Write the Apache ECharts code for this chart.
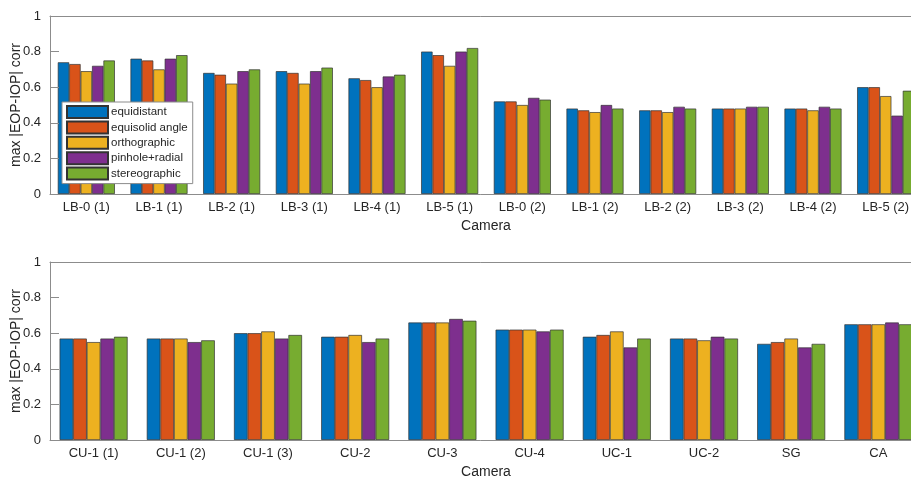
<!DOCTYPE html>
<html>
<head>
<meta charset="utf-8">
<script src="https://cdn.jsdelivr.net/npm/echarts@6/dist/echarts.min.js"></script>
<style>
  html, body { margin: 0; padding: 0; background: #fff; }
  #chart { width: 911px; height: 477px; }
</style>
</head>
<body>
<div id="chart"></div>
<script>
// Cameras of the first panel (LB rig, two sessions)
const topCameras = ['LB-0 (1)', 'LB-1 (1)', 'LB-2 (1)', 'LB-3 (1)', 'LB-4 (1)', 'LB-5 (1)',
                    'LB-0 (2)', 'LB-1 (2)', 'LB-2 (2)', 'LB-3 (2)', 'LB-4 (2)', 'LB-5 (2)'];
// Cameras of the second panel
const bottomCameras = ['CU-1 (1)', 'CU-1 (2)', 'CU-1 (3)', 'CU-2', 'CU-3', 'CU-4', 'UC-1', 'UC-2', 'SG', 'CA'];

// Projection models
const models = ['equidistant', 'equisolid angle', 'orthographic', 'pinhole+radial', 'stereographic'];

// max |EOP-IOP| correlation, first panel
const topEquidistant    = [0.74, 0.76, 0.68, 0.69, 0.65, 0.80, 0.52, 0.48, 0.47, 0.48, 0.48, 0.60];
const topEquisolid      = [0.73, 0.75, 0.67, 0.68, 0.64, 0.78, 0.52, 0.47, 0.47, 0.48, 0.48, 0.60];
const topOrthographic   = [0.69, 0.70, 0.62, 0.62, 0.60, 0.72, 0.50, 0.46, 0.46, 0.48, 0.47, 0.55];
const topPinholeRadial  = [0.72, 0.76, 0.69, 0.69, 0.66, 0.80, 0.54, 0.50, 0.49, 0.49, 0.49, 0.44];
const topStereographic  = [0.75, 0.78, 0.70, 0.71, 0.67, 0.82, 0.53, 0.48, 0.48, 0.49, 0.48, 0.58];

// max |EOP-IOP| correlation, second panel
const botEquidistant    = [0.57, 0.57, 0.60, 0.58, 0.66, 0.62, 0.58, 0.57, 0.54, 0.65];
const botEquisolid      = [0.57, 0.57, 0.60, 0.58, 0.66, 0.62, 0.59, 0.57, 0.55, 0.65];
const botOrthographic   = [0.55, 0.57, 0.61, 0.59, 0.66, 0.62, 0.61, 0.56, 0.57, 0.65];
const botPinholeRadial  = [0.57, 0.55, 0.57, 0.55, 0.68, 0.61, 0.52, 0.58, 0.52, 0.66];
const botStereographic  = [0.58, 0.56, 0.59, 0.57, 0.67, 0.62, 0.57, 0.57, 0.54, 0.65];

const yTicks = [0, 0.2, 0.4, 0.6, 0.8, 1];

const colors = ['#0072BD', '#D95319', '#EDB120', '#7E2F8E', '#77AC30'];
const topSeriesData = [topEquidistant, topEquisolid, topOrthographic, topPinholeRadial, topStereographic];
const botSeriesData = [botEquidistant, botEquisolid, botOrthographic, botPinholeRadial, botStereographic];

const FONT = "'Liberation Sans', Arial, Helvetica, sans-serif";
const TEXT = '#262626';
const AXIS = '#8c8c8c';
const TICK_LEN = 9;

function bottomAxis(gridIndex, cats) {
  return {
    type: 'category', gridIndex, data: cats, position: 'bottom', z: 5,
    name: 'Camera', nameLocation: 'middle', nameGap: 25,
    nameTextStyle: { fontFamily: FONT, fontSize: 14, color: TEXT },
    axisLine: { lineStyle: { color: AXIS, width: 1 } },
    axisTick: { inside: true, length: TICK_LEN, alignWithLabel: true, lineStyle: { color: AXIS } },
    axisLabel: { fontFamily: FONT, fontSize: 13, color: TEXT, margin: 7, interval: 0 },
    splitLine: { show: false }
  };
}
function topAxis(gridIndex, cats) {
  return {
    type: 'category', gridIndex, data: cats, position: 'top', z: 5,
    axisLine: { lineStyle: { color: AXIS, width: 1 } },
    axisTick: { inside: true, length: TICK_LEN, alignWithLabel: true, lineStyle: { color: AXIS } },
    axisLabel: { show: false },
    splitLine: { show: false }
  };
}
function valueAxis(gridIndex) {
  return {
    type: 'value', gridIndex, min: yTicks[0], max: yTicks[yTicks.length - 1], interval: 0.2, z: 5,
    name: 'max |EOP-IOP| corr', nameLocation: 'middle', nameGap: 27, nameMoveOverlap: false,
    nameTextStyle: { fontFamily: FONT, fontSize: 14, color: TEXT },
    axisLine: { show: true, lineStyle: { color: AXIS, width: 1 } },
    axisTick: { show: true, inside: true, length: TICK_LEN, lineStyle: { color: AXIS } },
    axisLabel: {
      fontFamily: FONT, fontSize: 13, color: TEXT, margin: 9,
      formatter: v => (v === 0 || v === 1) ? String(v) : v.toFixed(1)
    },
    splitLine: { show: false }
  };
}

const series = [];
models.forEach((name, i) => {
  series.push({
    name, type: 'bar', xAxisIndex: 0, yAxisIndex: 0, data: topSeriesData[i],
    barGap: '0%', barCategoryGap: '21.5%',
    itemStyle: { color: colors[i], borderColor: '#333', borderWidth: 0.7 },
    emphasis: { disabled: true }
  });
});
models.forEach((name, i) => {
  series.push({
    name, type: 'bar', xAxisIndex: 2, yAxisIndex: 1, data: botSeriesData[i],
    barGap: '0%', barCategoryGap: '22%',
    itemStyle: { color: colors[i], borderColor: '#333', borderWidth: 0.7 },
    emphasis: { disabled: true }
  });
});

const chart = echarts.init(document.getElementById('chart'), null, { renderer: 'canvas' });
chart.setOption({
  animation: false,
  backgroundColor: '#ffffff',
  grid: [
    { left: 50, top: 16, width: 872, height: 178, containLabel: false, outerBoundsMode: 'none' },
    { left: 50, top: 262, width: 872, height: 178, containLabel: false, outerBoundsMode: 'none' }
  ],
  xAxis: [
    bottomAxis(0, topCameras),
    topAxis(0, topCameras),
    bottomAxis(1, bottomCameras),
    topAxis(1, bottomCameras)
  ],
  yAxis: [valueAxis(0), valueAxis(1)],
  legend: {
    data: models,
    orient: 'vertical',
    left: 62, top: 102,
    padding: [3, 5, 3, 4],
    icon: 'rect',
    itemWidth: 41, itemHeight: 12, itemGap: 1.4,
    backgroundColor: '#ffffff',
    borderColor: '#8c8c8c', borderWidth: 1,
    selectedMode: false,
    textStyle: { fontFamily: FONT, fontSize: 11.5, color: TEXT, lineHeight: 13, padding: [0, 0, 0, -2] }
  },
  series
});
</script>
</body>
</html>
